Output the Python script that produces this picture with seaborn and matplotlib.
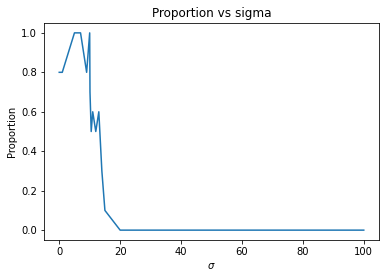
import matplotlib
matplotlib.use('Agg')
import matplotlib.pyplot as plt
import seaborn as sns
import pandas as pd

# values
sigma = [0, 1, 5, 7, 9, 10, 10.1, 10.5, 11, 12, 13, 14, 15, 20, 100]
proportion = [0.8, 0.8, 1.0, 1.0, 0.8, 1.0, 0.7, 0.5, 0.6, 0.5, 0.6, 0.3, 0.1, 0.0, 0.0]

df = pd.DataFrame({'sigma': sigma, 'proportion': proportion})

fig = plt.figure(figsize=(386 / 72, 278 / 72), dpi=72)
ax = fig.add_axes([44 / 386, 1 - 240 / 278, (379 - 44) / 386, (240 - 23) / 278])
sns.lineplot(x='sigma', y='proportion', data=df, ax=ax, color='tab:blue', linewidth=1.5)
ax.set_title('Proportion vs sigma')
ax.set_xlabel(r'$\sigma$')
ax.set_ylabel('Proportion')
fig.savefig('out.png', dpi=72)
